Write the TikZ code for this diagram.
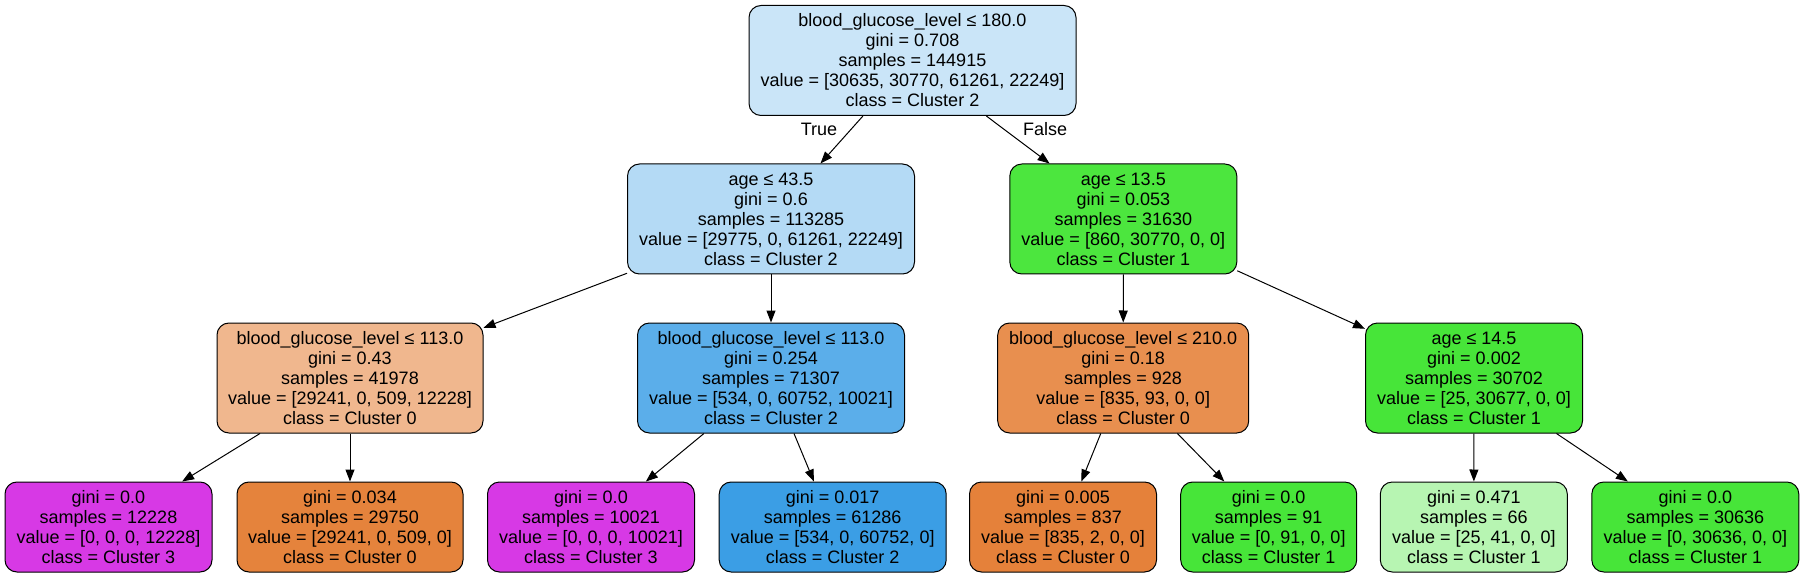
\documentclass[tikz,border=0pt]{standalone}
\usepackage{fontspec}
\setmainfont{Liberation Sans}
\usetikzlibrary{arrows.meta}
\definecolor{cRoot}{HTML}{CAE5F8}
\definecolor{cA}{HTML}{B4DAF5}
\definecolor{cB}{HTML}{F0B78E}
\definecolor{cC}{HTML}{5BAEEA}
\definecolor{cD}{HTML}{4CE63E}
\definecolor{cE}{HTML}{E88F4F}
\definecolor{cF}{HTML}{47E539}
\definecolor{cMag}{HTML}{D739E5}
\definecolor{cOr}{HTML}{E5833C}
\definecolor{cBl}{HTML}{3B9EE5}
\definecolor{cOr2}{HTML}{E5813A}
\definecolor{cLg}{HTML}{B7F5B2}
\tikzset{
  tnode/.style={rectangle, rounded corners=12pt, draw=black, line width=1pt,
    align=center, inner sep=0pt, font=\fontsize{18}{20}\selectfont},
  inner/.style={tnode, minimum height=110pt},
  leaf/.style={tnode, minimum height=90pt},
  edge/.style={-{Triangle[length=12pt,width=9pt]}, line width=1pt, black},
  elabel/.style={font=\fontsize{18}{20}\selectfont}
}
\begin{document}
\begin{tikzpicture}[x=1pt,y=-1pt]
\useasboundingbox (0,0) rectangle (1804,577);
% level 0
\node[inner, fill=cRoot, minimum width=327pt] (root) at (912.5,60.5)
  {blood\_glucose\_level ≤ 180.0\\gini = 0.708\\samples = 144915\\value = [30635, 30770, 61261, 22249]\\class = Cluster 2};
% level 1
\node[inner, fill=cA, minimum width=287pt] (n1) at (771,219)
  {age ≤ 43.5\\gini = 0.6\\samples = 113285\\value = [29775, 0, 61261, 22249]\\class = Cluster 2};
\node[inner, fill=cD, minimum width=227pt] (n4) at (1123.3,219)
  {age ≤ 13.5\\gini = 0.053\\samples = 31630\\value = [860, 30770, 0, 0]\\class = Cluster 1};
% level 2
\node[inner, fill=cB, minimum width=266pt] (n2) at (350,378)
  {blood\_glucose\_level ≤ 113.0\\gini = 0.43\\samples = 41978\\value = [29241, 0, 509, 12228]\\class = Cluster 0};
\node[inner, fill=cC, minimum width=267pt] (n3) at (771,378)
  {blood\_glucose\_level ≤ 113.0\\gini = 0.254\\samples = 71307\\value = [534, 0, 60752, 10021]\\class = Cluster 2};
\node[inner, fill=cE, minimum width=251pt] (n5) at (1123.2,378)
  {blood\_glucose\_level ≤ 210.0\\gini = 0.18\\samples = 928\\value = [835, 93, 0, 0]\\class = Cluster 0};
\node[inner, fill=cF, minimum width=217pt] (n6) at (1474,378)
  {age ≤ 14.5\\gini = 0.002\\samples = 30702\\value = [25, 30677, 0, 0]\\class = Cluster 1};
% level 3
\node[leaf, fill=cMag, minimum width=207pt] (la) at (108.5,527)
  {gini = 0.0\\samples = 12228\\value = [0, 0, 0, 12228]\\class = Cluster 3};
\node[leaf, fill=cOr, minimum width=226pt] (lb) at (350,527)
  {gini = 0.034\\samples = 29750\\value = [29241, 0, 509, 0]\\class = Cluster 0};
\node[leaf, fill=cMag, minimum width=207pt] (lc) at (591,527)
  {gini = 0.0\\samples = 10021\\value = [0, 0, 0, 10021]\\class = Cluster 3};
\node[leaf, fill=cBl, minimum width=227pt] (ld) at (832.7,527)
  {gini = 0.017\\samples = 61286\\value = [534, 0, 60752, 0]\\class = Cluster 2};
\node[leaf, fill=cOr2, minimum width=187pt] (le) at (1063,527)
  {gini = 0.005\\samples = 837\\value = [835, 2, 0, 0]\\class = Cluster 0};
\node[leaf, fill=cF, minimum width=176pt] (lf) at (1268.7,527)
  {gini = 0.0\\samples = 91\\value = [0, 91, 0, 0]\\class = Cluster 1};
\node[leaf, fill=cLg, minimum width=187pt] (lg) at (1473.8,527)
  {gini = 0.471\\samples = 66\\value = [25, 41, 0, 0]\\class = Cluster 1};
\node[leaf, fill=cF, minimum width=207pt] (lh) at (1695.3,527)
  {gini = 0.0\\samples = 30636\\value = [0, 30636, 0, 0]\\class = Cluster 1};
% edges
\draw[edge] (root) -- (n1);
\draw[edge] (root) -- (n4);
\draw[edge] (n1) -- (n2);
\draw[edge] (n1) -- (n3);
\draw[edge] (n4) -- (n5);
\draw[edge] (n4) -- (n6);
\draw[edge] (n2) -- (la);
\draw[edge] (n2) -- (lb);
\draw[edge] (n3) -- (lc);
\draw[edge] (n3) -- (ld);
\draw[edge] (n5) -- (le);
\draw[edge] (n5) -- (lf);
\draw[edge] (n6) -- (lg);
\draw[edge] (n6) -- (lh);
% edge labels
\node[elabel] (tlab) at (819,129.5) {True};
\node[elabel] (flab) at (1045,129.5) {False};
\end{tikzpicture}
\end{document}
